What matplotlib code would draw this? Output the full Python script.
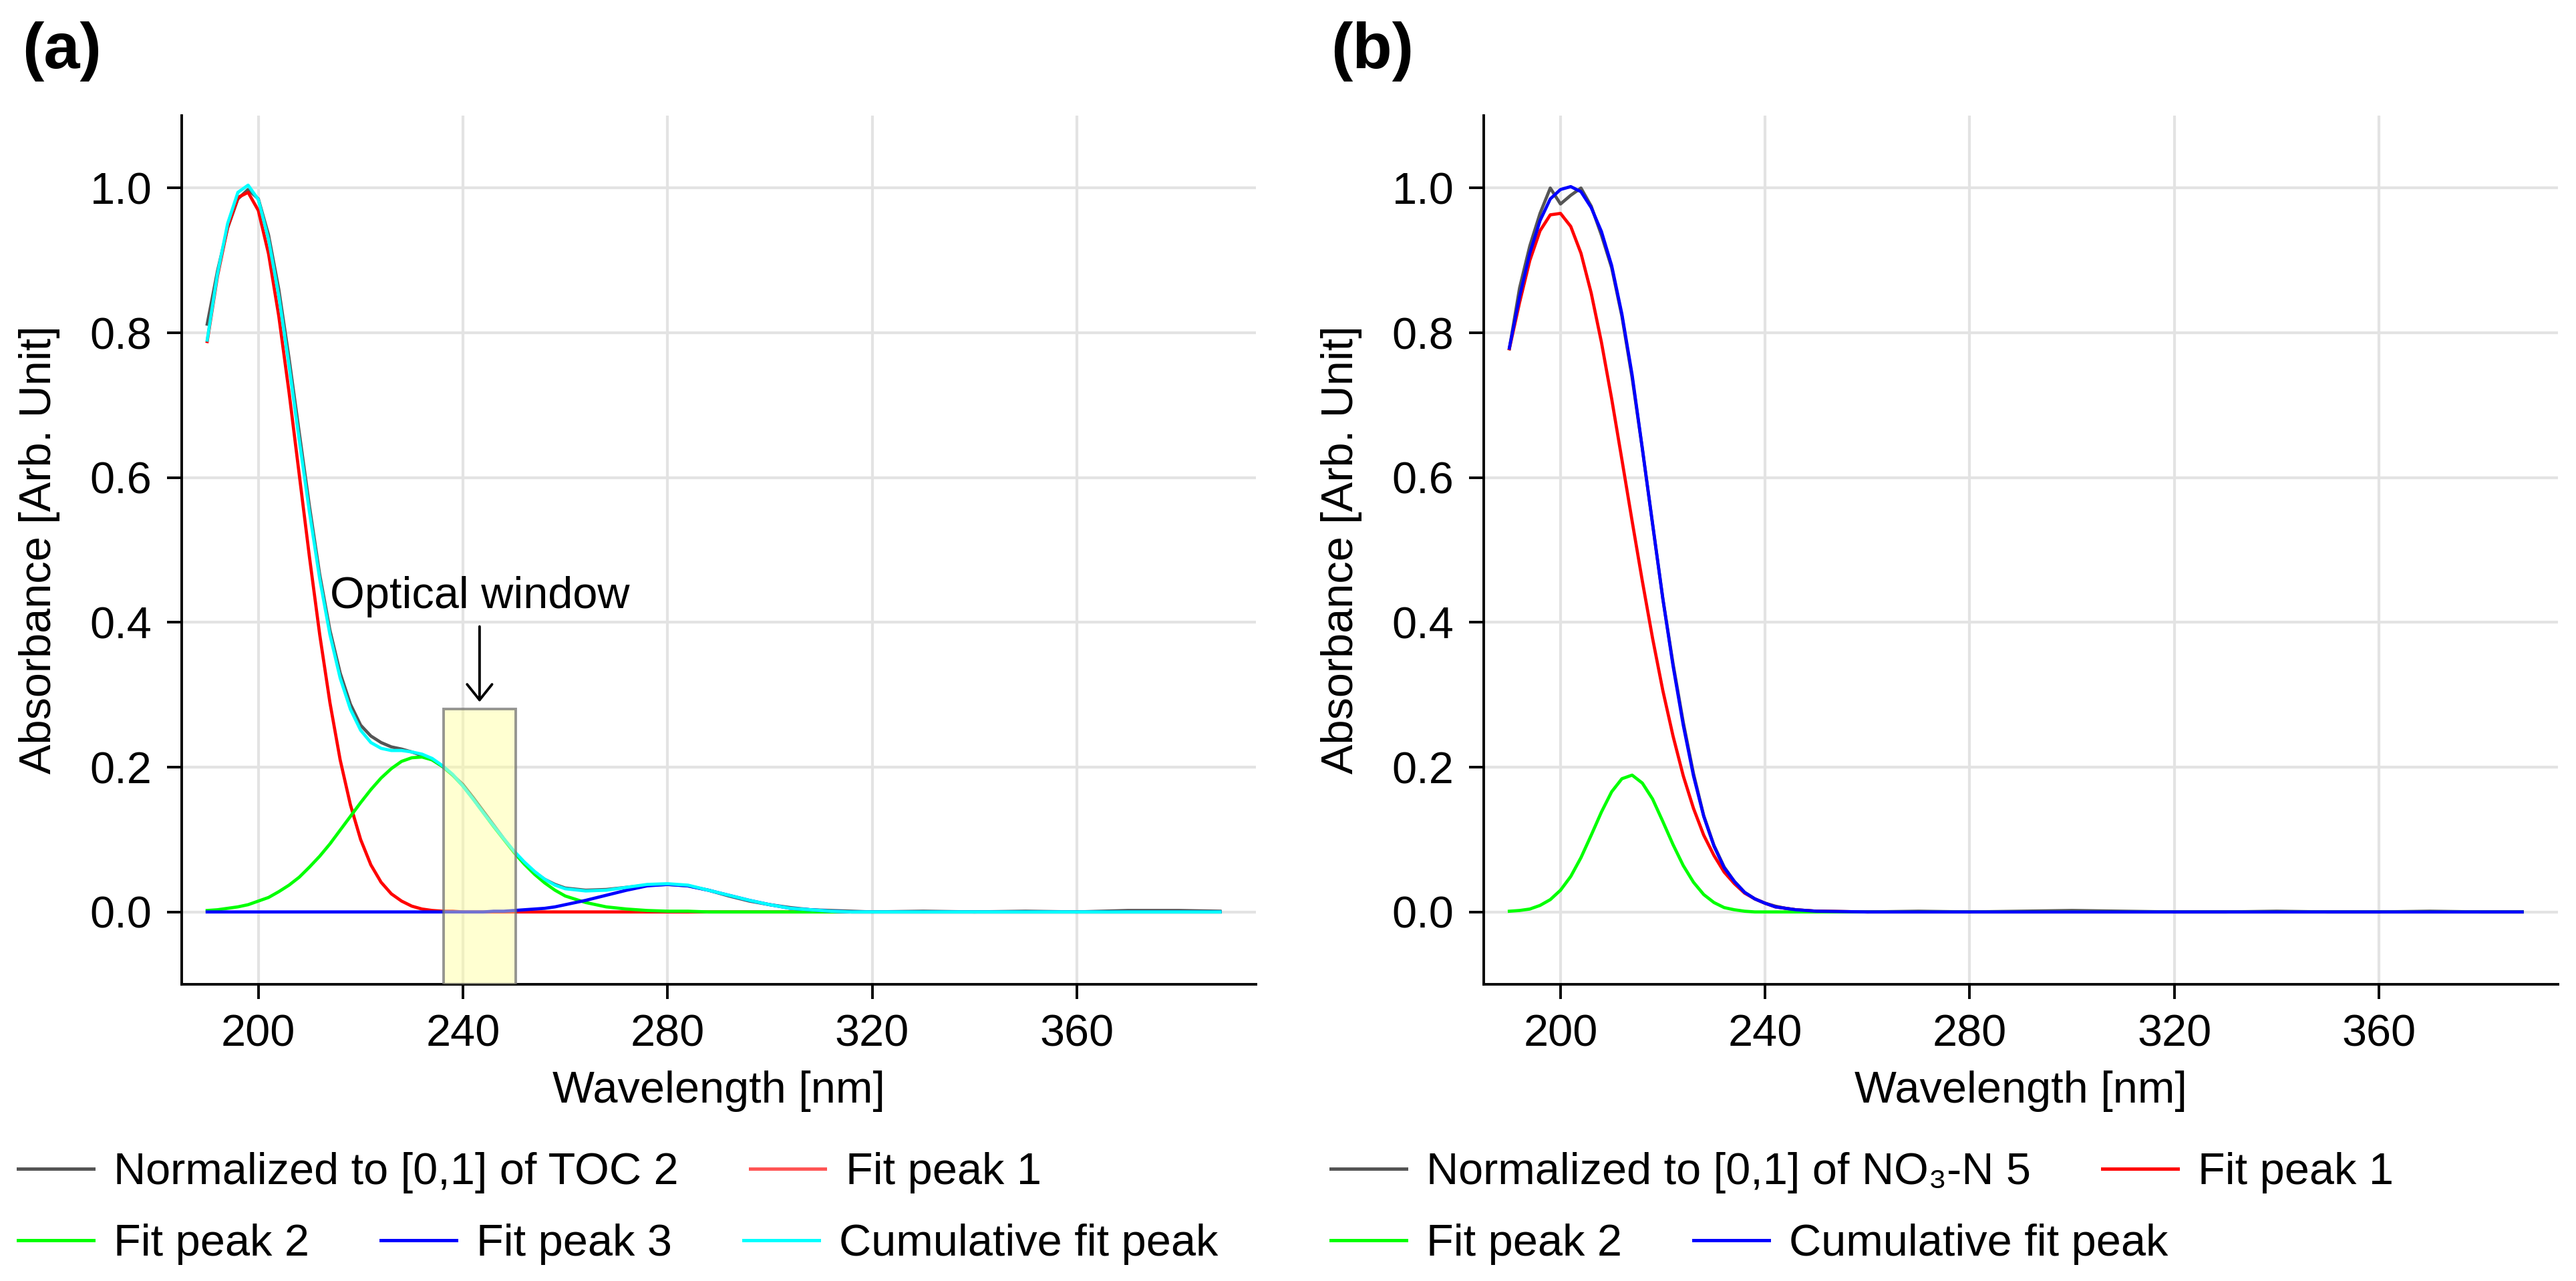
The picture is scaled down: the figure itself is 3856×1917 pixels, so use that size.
import matplotlib
matplotlib.use("Agg")
import matplotlib.pyplot as plt
from matplotlib.lines import Line2D
from matplotlib.patches import Rectangle

plt.rcParams['font.family'] = ['Liberation Sans', 'DejaVu Sans']

# ---- panel (a): TOC 2 ----
wl_a = [190, 192, 194, 196, 198, 200, 202, 204, 206, 208, 210, 212, 214, 216, 218, 220,
        222, 224, 226, 228, 230, 232, 234, 236, 238, 240, 242, 244, 246, 248, 250, 252,
        254, 256, 258, 260, 264, 268, 272, 276, 280, 284, 288, 292, 296, 300, 304, 308,
        312, 316, 320, 330, 340, 350, 360, 370, 380, 388]

toc_norm = [0.812, 0.885, 0.945, 0.985, 0.998, 0.985, 0.935, 0.860, 0.765, 0.662, 0.560, 0.466,
            0.389, 0.330, 0.287, 0.258, 0.243, 0.234, 0.228, 0.225, 0.221, 0.216, 0.210, 0.201,
            0.189, 0.176, 0.158, 0.139, 0.120, 0.101, 0.083, 0.068, 0.055, 0.045, 0.038, 0.033,
            0.030, 0.031, 0.034, 0.037, 0.038, 0.036, 0.030, 0.022, 0.015, 0.010, 0.006, 0.003,
            0.002, 0.001, 0.000, 0.001, 0.000, 0.001, 0.000, 0.002, 0.002, 0.001]

toc_peak1 = [0.788, 0.878, 0.946, 0.987, 0.994, 0.969, 0.909, 0.823, 0.718, 0.604, 0.490, 0.383,
             0.289, 0.210, 0.148, 0.100, 0.065, 0.041, 0.025, 0.015, 0.008, 0.004, 0.002, 0.001,
             0.001, 0.000, 0.000, 0.000, 0.000, 0.000, 0.000, 0.000, 0.000, 0.000, 0.000, 0.000,
             0.000, 0.000, 0.000, 0.000, 0.000, 0.000, 0.000, 0.000, 0.000, 0.000, 0.000, 0.000,
             0.000, 0.000, 0.000, 0.000, 0.000, 0.000, 0.000, 0.000, 0.000, 0.000]

toc_peak2 = [0.002, 0.003, 0.005, 0.007, 0.010, 0.015, 0.020, 0.028, 0.037, 0.048, 0.062, 0.077,
             0.094, 0.113, 0.132, 0.151, 0.169, 0.185, 0.198, 0.208, 0.213, 0.214, 0.210, 0.201,
             0.189, 0.174, 0.156, 0.137, 0.118, 0.100, 0.082, 0.066, 0.052, 0.040, 0.030, 0.022,
             0.013, 0.007, 0.004, 0.002, 0.001, 0.001, 0.000, 0.000, 0.000, 0.000, 0.000, 0.000,
             0.000, 0.000, 0.000, 0.000, 0.000, 0.000, 0.000, 0.000, 0.000, 0.000]

toc_peak3 = [0.000, 0.000, 0.000, 0.000, 0.000, 0.000, 0.000, 0.000, 0.000, 0.000, 0.000, 0.000,
             0.000, 0.000, 0.000, 0.000, 0.000, 0.000, 0.000, 0.000, 0.000, 0.000, 0.000, 0.000,
             0.000, 0.000, 0.000, 0.000, 0.001, 0.001, 0.002, 0.003, 0.004, 0.005, 0.007, 0.010,
             0.016, 0.023, 0.030, 0.036, 0.038, 0.036, 0.030, 0.023, 0.016, 0.010, 0.005, 0.003,
             0.001, 0.000, 0.000, 0.000, 0.000, 0.000, 0.000, 0.000, 0.000, 0.000]

toc_cumulative = [0.790, 0.881, 0.951, 0.994, 1.004, 0.984, 0.929, 0.851, 0.755, 0.652, 0.552, 0.460,
                  0.383, 0.323, 0.280, 0.251, 0.234, 0.226, 0.223, 0.223, 0.221, 0.218, 0.212, 0.202,
                  0.190, 0.174, 0.156, 0.137, 0.119, 0.101, 0.084, 0.069, 0.056, 0.045, 0.037, 0.032,
                  0.029, 0.030, 0.034, 0.038, 0.039, 0.037, 0.030, 0.023, 0.016, 0.010, 0.005, 0.003,
                  0.001, 0.000, 0.000, 0.000, 0.000, 0.000, 0.000, 0.000, 0.000, 0.000]

# ---- panel (b): NO3-N 5 ----
wl_b = [190, 192, 194, 196, 198, 200, 202, 204, 206, 208, 210, 212, 214, 216, 218, 220,
        222, 224, 226, 228, 230, 232, 234, 236, 238, 240, 242, 244, 246, 248, 250,
        260, 270, 280, 290, 300, 310, 320, 330, 340, 350, 360, 370, 380, 388]

no3_norm = [0.778, 0.862, 0.920, 0.965, 1.000, 0.978, 0.990, 1.000, 0.975, 0.935, 0.890, 0.823,
            0.738, 0.640, 0.536, 0.433, 0.343, 0.262, 0.191, 0.133, 0.092, 0.062, 0.042, 0.027,
            0.018, 0.012, 0.008, 0.005, 0.003, 0.002, 0.001,
            0.000, 0.001, 0.000, 0.001, 0.002, 0.001, 0.000, 0.000, 0.001, 0.000, 0.000, 0.001,
            0.000, 0.000]

no3_peak1 = [0.778, 0.842, 0.900, 0.941, 0.963, 0.965, 0.947, 0.910, 0.855, 0.787, 0.709, 0.625,
             0.540, 0.457, 0.378, 0.306, 0.243, 0.188, 0.143, 0.106, 0.078, 0.055, 0.039, 0.026,
             0.018, 0.012, 0.007, 0.005, 0.003, 0.002, 0.001,
             0.000, 0.000, 0.000, 0.000, 0.000, 0.000, 0.000, 0.000, 0.000, 0.000, 0.000, 0.000,
             0.000, 0.000]

no3_peak2 = [0.001, 0.002, 0.004, 0.009, 0.017, 0.030, 0.049, 0.075, 0.106, 0.138, 0.166, 0.184,
             0.189, 0.178, 0.156, 0.125, 0.093, 0.064, 0.041, 0.024, 0.013, 0.006, 0.003, 0.001,
             0.000, 0.000, 0.000, 0.000, 0.000, 0.000, 0.000,
             0.000, 0.000, 0.000, 0.000, 0.000, 0.000, 0.000, 0.000, 0.000, 0.000, 0.000, 0.000,
             0.000, 0.000]

no3_cumulative = [0.779, 0.850, 0.910, 0.955, 0.985, 0.998, 1.002, 0.995, 0.973, 0.940, 0.893, 0.826,
                  0.742, 0.640, 0.536, 0.433, 0.340, 0.258, 0.188, 0.132, 0.091, 0.061, 0.042, 0.027,
                  0.018, 0.012, 0.007, 0.005, 0.003, 0.002, 0.001,
                  0.000, 0.000, 0.000, 0.000, 0.000, 0.000, 0.000, 0.000, 0.000, 0.000, 0.000, 0.000,
                  0.000, 0.000]

x_ticks = [200, 240, 280, 320, 360]
y_ticks = [0.0, 0.2, 0.4, 0.6, 0.8, 1.0]
window = (236.2, 250.3)  # optical window [nm]

GREY = '#555555'
LW = 1.7
FS = 24


def style_axes(ax):
    ax.set_xlim(185, 395)
    ax.set_ylim(-0.1, 1.1)
    ax.set_xticks(x_ticks)
    ax.set_yticks(y_ticks)
    ax.set_yticklabels([f'{v:.1f}' for v in y_ticks])
    ax.grid(True, color='#e3e3e3', lw=1.5)
    ax.set_axisbelow(True)
    for s in ['top', 'right']:
        ax.spines[s].set_visible(False)
    for s in ['left', 'bottom']:
        ax.spines[s].set_linewidth(1.4)
    ax.tick_params(length=8, width=1.4, pad=8, labelsize=FS)
    ax.set_xlabel('Wavelength [nm]', fontsize=FS, labelpad=8)
    ax.set_ylabel('Absorbance [Arb. Unit]', fontsize=FS, labelpad=16)


def legend_row(fig, items, x, y):
    handles = [Line2D([], [], color=c, lw=1.8) for c, _ in items]
    labels = [lab for _, lab in items]
    fig.legend(handles, labels, loc='center left', bbox_to_anchor=(x, y), ncol=len(items),
               frameon=False, borderpad=0, borderaxespad=0, fontsize=FS,
               handlelength=1.69, handletextpad=0.46, columnspacing=1.6)


fig = plt.figure(figsize=(19.28, 9.585), dpi=200)
ax_a = fig.add_axes([0.0705, 0.2316, 0.4170, 0.6781])
ax_b = fig.add_axes([0.5760, 0.2316, 0.4170, 0.6781])

# (a)
ax_a.plot(wl_a, toc_norm, color=GREY, lw=LW)
ax_a.plot(wl_a, toc_peak1, color='#ff0000', lw=LW)
ax_a.plot(wl_a, toc_peak2, color='#00ff00', lw=LW)
ax_a.plot(wl_a, toc_peak3, color='#0000ff', lw=LW)
ax_a.plot(wl_a, toc_cumulative, color='#00ffff', lw=LW)
ax_a.add_patch(Rectangle((window[0], -0.1), window[1] - window[0], 0.38,
                         facecolor=(1, 1, 0.6, 0.45), edgecolor=(0.45, 0.45, 0.45, 0.75),
                         lw=1.4, zorder=3))
ax_a.annotate('Optical window', xy=(sum(window) / 2, 0.29), xytext=(sum(window) / 2, 0.42),
              ha='center', va='baseline', fontsize=FS, zorder=4,
              arrowprops=dict(arrowstyle='->,head_length=0.35,head_width=0.28', lw=1.4,
                              color='black', shrinkA=3, shrinkB=0))
style_axes(ax_a)

# (b)
ax_b.plot(wl_b, no3_norm, color=GREY, lw=LW)
ax_b.plot(wl_b, no3_peak1, color='#ff0000', lw=LW)
ax_b.plot(wl_b, no3_peak2, color='#00ff00', lw=LW)
ax_b.plot(wl_b, no3_cumulative, color='#0000ff', lw=LW)
style_axes(ax_b)

fig.text(0.0086, 0.9596, '(a)', fontsize=35, fontweight='bold', ha='left', va='center')
fig.text(0.5166, 0.9596, '(b)', fontsize=35, fontweight='bold', ha='left', va='center')

legend_row(fig, [(GREY, 'Normalized to [0,1] of TOC 2'), ('#ff5555', 'Fit peak 1')], 0.0070, 0.0845)
legend_row(fig, [('#00ff00', 'Fit peak 2'), ('#0000ff', 'Fit peak 3'),
                 ('#00ffff', 'Cumulative fit peak')], 0.0070, 0.0287)
legend_row(fig, [(GREY, 'Normalized to [0,1] of NO₃-N 5'), ('#ff0000', 'Fit peak 1')], 0.5166, 0.0845)
legend_row(fig, [('#00ff00', 'Fit peak 2'), ('#0000ff', 'Cumulative fit peak')], 0.5166, 0.0287)

fig.savefig('out.png', dpi=200)
